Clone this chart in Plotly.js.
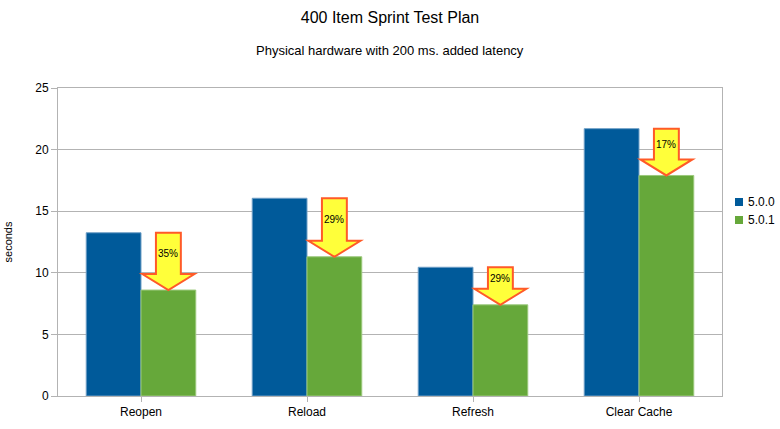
<!DOCTYPE html>
<html><head><meta charset="utf-8">
<script src="https://cdn.plot.ly/plotly-3.0.1.min.js"></script>
<style>html,body{margin:0;padding:0;background:#fff}#c{width:780px;height:429px}</style>
</head><body><div id="c"></div>
<script>
const categories = ["Reopen", "Reload", "Refresh", "Clear Cache"];
const v500 = [13.25, 16.05, 10.45, 21.7];
const v501 = [8.6, 11.3, 7.4, 17.9];
const pctLabels = ["35%", "29%", "29%", "17%"];
const seriesNames = ["5.0.0", "5.0.1"];
const seriesColors = ['#005a9a', '#66a83a'];
const seriesEdges = ['#6f9fc6', '#9cc97c'];

const bargap = 0.34;
const barW = (1 - bargap) / 2;
const shaftHalf = 0.075, headHalf = 0.157, headH = 1.3;
const FONT = 'Liberation Sans, Arial, sans-serif';

const shapes = [], annotations = [];
categories.forEach((c, i) => {
  const cx = i + barW / 2;
  const top = v500[i], tip = v501[i], hb = tip + headH;
  const p = `M ${cx - shaftHalf} ${top} L ${cx + shaftHalf} ${top} L ${cx + shaftHalf} ${hb} L ${cx + headHalf} ${hb} L ${cx} ${tip} L ${cx - headHalf} ${hb} L ${cx - shaftHalf} ${hb} Z`;
  shapes.push({type: 'path', xref: 'x', yref: 'y', path: p, fillcolor: '#ffff3a',
    line: {color: '#ff5a28', width: 2}, layer: 'above'});
  annotations.push({xref: 'x', yref: 'y', x: cx, y: (top + hb) / 2, text: pctLabels[i],
    showarrow: false, font: {family: FONT, size: 10, color: '#000'}});
});
annotations.push({xref: 'paper', yref: 'paper', x: 0.5, y: 1, yshift: 38, xanchor: 'center', yanchor: 'middle',
  text: 'Physical hardware with 200 ms. added latency', showarrow: false,
  font: {family: FONT, size: 13, color: '#000'}});

// custom legend (paper coords: plot spans 664 x 308 px)
seriesNames.forEach((n, k) => {
  const cy = 202 + k * 18;
  const y0 = (396 - (cy + 4)) / 308, y1 = (396 - (cy - 4)) / 308;
  shapes.push({type: 'rect', xref: 'paper', yref: 'paper', x0: (735 - 58) / 664, x1: (743 - 58) / 664,
    y0: y0, y1: y1, fillcolor: seriesColors[k], line: {width: 0}});
  annotations.push({xref: 'paper', yref: 'paper', x: (746 - 58) / 664, y: (396 - cy) / 308,
    xanchor: 'left', yanchor: 'middle', text: n, showarrow: false, font: {family: FONT, size: 12, color: '#000'}});
});

const data = seriesNames.map((n, k) => ({type: 'bar', name: n, x: [0,1,2,3], y: k === 0 ? v500 : v501,
  marker: {color: seriesColors[k], line: {color: seriesEdges[k], width: 1}}}));

const layout = {
  width: 780, height: 429,
  margin: {l: 58, r: 58, t: 88, b: 33, autoexpand: false},
  paper_bgcolor: '#fff', plot_bgcolor: '#fff',
  font: {family: FONT, size: 12, color: '#000'},
  showlegend: false,
  title: {text: '400 Item Sprint Test Plan', x: 0.5, xanchor: 'center', y: 0.96, yanchor: 'middle',
    font: {size: 16, family: FONT, color: '#000'}},
  barmode: 'group', bargap: bargap, bargroupgap: 0,
  xaxis: {tickmode: 'array', tickvals: [0,1,2,3], ticktext: categories, range: [-0.5, 3.5],
    showgrid: false, showline: true, linecolor: '#b3b3b3', linewidth: 1, mirror: true,
    ticks: 'outside', ticklen: 5, tickcolor: '#b3b3b3', tickson: 'boundaries', zeroline: false},
  yaxis: {range: [0, 25], dtick: 5, showgrid: true, gridcolor: '#b3b3b3', gridwidth: 1,
    showline: true, linecolor: '#b3b3b3', mirror: true, ticks: 'outside', ticklen: 6, tickcolor: '#b3b3b3',
    zeroline: false, title: {text: 'seconds', font: {size: 11}, standoff: 20}},
  shapes: shapes, annotations: annotations
};
Plotly.newPlot('c', data, layout, {displayModeBar: false, staticPlot: true});
</script></body></html>
